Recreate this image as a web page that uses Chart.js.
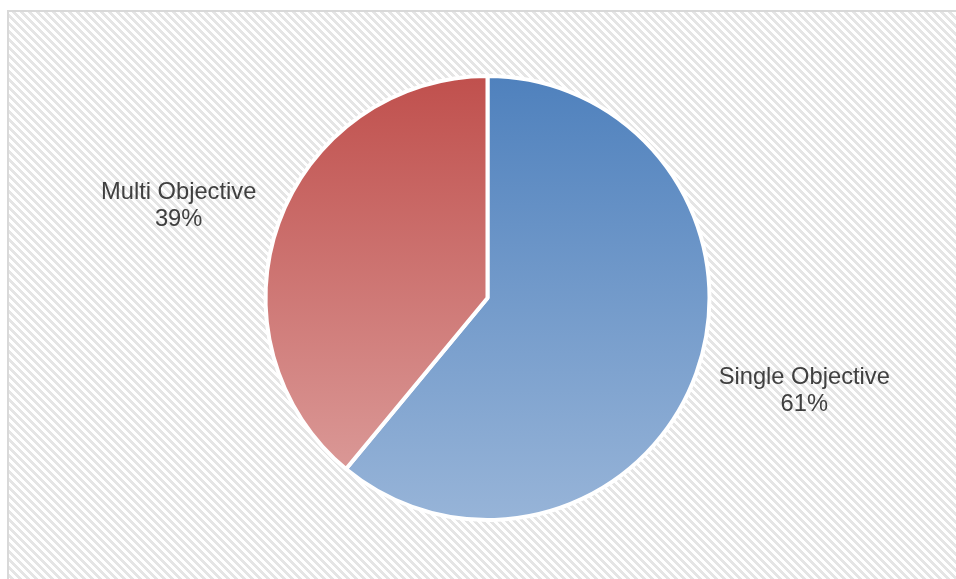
<!DOCTYPE html>
<html><head><meta charset="utf-8">
<script src="https://cdn.jsdelivr.net/npm/chart.js@4/dist/chart.umd.min.js"></script>
<style>html,body{margin:0;padding:0;background:#fff;} #wrap{width:956px;height:579px;position:relative;}</style>
</head><body><div id="wrap"><canvas id="c" width="956" height="579"></canvas></div>
<script>
const categories = ['Single Objective', 'Multi Objective'];
const shares = [61, 39];
const percentLabels = ['61%', '39%'];
const topColors = ['#4F81BD', '#C0504D'];
const bottomColors = ['#97B4D8', '#DA9896'];

function sliceGradient(context) {
  const chart = context.chart;
  const area = chart.chartArea;
  const i = context.dataIndex;
  if (!area) return topColors[i];
  const total = shares.reduce((a, b) => a + b, 0);
  let before = 0; for (let k = 0; k < i; k++) before += shares[k];
  const a0 = -Math.PI / 2 + 2 * Math.PI * before / total;
  const a1 = a0 + 2 * Math.PI * shares[i] / total;
  const cy = (area.top + area.bottom) / 2;
  const r = (Math.min(area.width, area.height) - 4) / 2;
  const ys = [cy, cy + r * Math.sin(a0), cy + r * Math.sin(a1)];
  for (const t of [-Math.PI / 2, Math.PI / 2, 3 * Math.PI / 2]) if (t >= a0 && t <= a1) ys.push(cy + r * Math.sin(t));
  const y0 = Math.min(...ys), y1 = Math.max(...ys);
  const g = chart.ctx.createLinearGradient(0, y0, 0, y1);
  g.addColorStop(0, topColors[i]);
  g.addColorStop(1, bottomColors[i]);
  return g;
}

const hatchPlugin = {
  id: 'hatch',
  beforeDraw(chart) {
    const ctx = chart.ctx;
    const p = document.createElement('canvas'); p.width = 8; p.height = 8;
    const pc = p.getContext('2d');
    pc.fillStyle = '#ffffff'; pc.fillRect(0, 0, 8, 8);
    pc.fillStyle = '#e5e5e5';
    for (let y = 0; y < 8; y++) for (let x = 0; x < 8; x++) if ((((x - y) % 8) + 8) % 8 < 4) pc.fillRect(x, y, 1, 1);
    ctx.save();
    ctx.fillStyle = '#ffffff'; ctx.fillRect(0, 0, chart.width, chart.height);
    ctx.fillStyle = ctx.createPattern(p, 'repeat');
    ctx.fillRect(9, 12, chart.width - 9, chart.height - 12);
    ctx.strokeStyle = '#d9d9d9'; ctx.lineWidth = 2;
    ctx.beginPath(); ctx.moveTo(8, chart.height); ctx.lineTo(8, 11); ctx.lineTo(chart.width, 11); ctx.stroke();
    ctx.restore();
  }
};

const labelPlugin = {
  id: 'outLabels',
  afterDatasetsDraw(chart) {
    const ctx = chart.ctx;
    const meta = chart.getDatasetMeta(0);
    meta.data.forEach((arc, i) => {
      const { x, y, startAngle, endAngle, outerRadius } = arc.getProps(['x', 'y', 'startAngle', 'endAngle', 'outerRadius'], true);
      const mid = (startAngle + endAngle) / 2 + 2 * Math.PI / 180;
      const d = outerRadius + 27;
      const ax = x + Math.cos(mid) * d, ay = y + Math.sin(mid) * d;
      const right = Math.cos(mid) >= 0;
      ctx.save();
      ctx.font = '23.7px "Liberation Sans", Arial, sans-serif';
      ctx.fillStyle = '#404040';
      ctx.textBaseline = 'middle';
      ctx.textAlign = 'center';
      const lines = [categories[i], percentLabels[i]];
      const w = Math.max(...lines.map(l => ctx.measureText(l).width));
      const cx = right ? ax + w / 2 : ax - w / 2;
      const lh = 27;
      lines.forEach((l, k) => ctx.fillText(l, cx, ay + (k - (lines.length - 1) / 2) * lh));
      ctx.restore();
    });
  }
};

new Chart(document.getElementById('c'), {
  type: 'pie',
  data: {
    labels: categories,
    datasets: [{
      data: shares,
      backgroundColor: sliceGradient,
      borderColor: '#ffffff',
      borderWidth: 4
    }]
  },
  options: {
    responsive: false,
    animation: false,
    layout: { padding: { left: 19, right: 0, top: 74, bottom: 57 } },
    plugins: { legend: { display: false }, tooltip: { enabled: false } }
  },
  plugins: [hatchPlugin, labelPlugin]
});
</script>
</body></html>
